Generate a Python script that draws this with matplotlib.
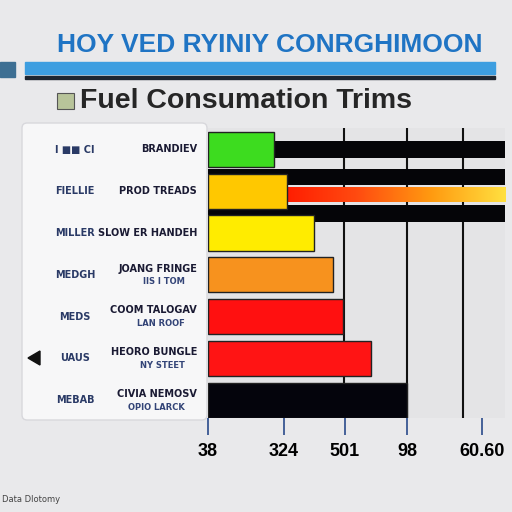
import matplotlib
matplotlib.use("Agg")
import matplotlib.pyplot as plt
import numpy as np
from matplotlib.patches import FancyBboxPatch, Rectangle, Polygon
from matplotlib.colors import LinearSegmentedColormap

# ---- data ----
codes = ["I ■■ CI", "FIELLIE", "MILLER", "MEDGH", "MEDS", "UAUS", "MEBAB"]
names = ["BRANDIEV", "PROD TREADS", "SLOW ER HANDEH", "JOANG FRINGE",
         "COOM TALOGAV", "HEORO BUNGLE", "CIVIA NEMOSV"]
subnames = ["", "", "", "IIS I TOM", "LAN ROOF", "NY STEET", "OPIO LARCK"]
values = [20, 24, 32, 38, 41, 49.4, 60.3]
bar_colors = ["#3ddc1f", "#ffc800", "#ffec00", "#f7921e", "#ff1010", "#ff1414", "#04040c"]
band_pos = [0.0, 0.66, 1.53]
band_vals = [90, 90, 90]
grad_pos = 1.09
grad_val = 90
tick_vals = [0, 23, 41.5, 60.3, 83]
tick_labels = ["38", "324", "501", "98", "60.60"]
grid_vals = [41.2, 60.3, 77.3]

title = "HOY VED RYINIY CONRGHIMOON"
subtitle = "Fuel Consumation Trims"
footer = "Data Dlotomy"

fig = plt.figure(figsize=(5.12, 5.12), dpi=100)
fig.patch.set_facecolor("#e9e9eb")

# header decorations
fig.patches.append(Rectangle((0, 1 - 77/512), 15/512, 15/512, transform=fig.transFigure,
                             color="#3d6f93", zorder=1))
fig.patches.append(Rectangle((25/512, 1 - 74/512), 470/512, 12/512, transform=fig.transFigure,
                             color="#3d9ee0", zorder=1))
fig.patches.append(Rectangle((25/512, 1 - 79/512), 470/512, 3/512, transform=fig.transFigure,
                             color="#1e2630", zorder=1))
fig.text(57/512, 1 - 45/512, title, color="#1f74c4", fontsize=19, fontweight="bold",
         family="Liberation Sans", va="center", ha="left")
# small icon before subtitle
fig.patches.append(Rectangle((57/512, 1 - 109/512), 17/512, 16/512, transform=fig.transFigure,
                             facecolor="#b8c49a", edgecolor="#555555", lw=0.8, zorder=1))
fig.text(80/512, 1 - 101/512, subtitle, color="#262626", fontsize=20.5, fontweight="bold",
         family="Liberation Sans", va="center", ha="left")
fig.text(2/512, 1 - 500/512, footer, color="#444444", fontsize=6, va="center", ha="left")

# left label panel
fig.patches.append(FancyBboxPatch((22/512, 1 - 420/512), 185/512, 297/512,
                                  boxstyle="round,pad=0,rounding_size=0.01",
                                  transform=fig.transFigure, facecolor="#f7f7f8",
                                  edgecolor="#d8d8dc", lw=1, zorder=1))
fig.patches.append(Polygon([[28/512, 1 - 358/512], [40/512, 1 - 351/512], [40/512, 1 - 365/512]],
                           closed=True, transform=fig.transFigure, color="#111111", zorder=2))

ax = fig.add_axes([208/512, 1 - 418/512, 297/512, 290/512])
ax.set_facecolor("#e4e4e6")

y = np.arange(len(values))
for gv in grid_vals:
    ax.axvline(gv, color="#111111", lw=1.5, zorder=1)
# black bands
ax.barh(band_pos, band_vals, height=0.4, color="#050508", zorder=2)
# gradient band
grad = np.linspace(0, 1, 256).reshape(1, -1)
cmap = LinearSegmentedColormap.from_list("g", ["#ff1a00", "#ff4a10", "#ff9a10", "#ffe040"])
ax.imshow(grad, cmap=cmap, aspect="auto",
          extent=[22, grad_val, grad_pos + 0.17, grad_pos - 0.17], zorder=2)
ax.set_xlim(0, 90)
ax.set_ylim(6.43, -0.515)
# main bars
ax.barh(y, values, height=0.84, color=bar_colors, edgecolor="#222222", lw=1, zorder=3)

ax.set_yticks([])
ax.set_xticks(tick_vals)
ax.set_xticklabels(tick_labels, fontsize=13, fontweight="bold", family="Liberation Sans")
ax.tick_params(axis="x", length=12, width=1.2, color="#2a4a8a", pad=6)
for s in ax.spines.values():
    s.set_visible(False)

# row labels
for i in range(len(values)):
    yc = 1 - (149.5 + i * 41.75) / 512
    dy = 0.012 if subnames[i] else 0
    fig.text(75/512, yc, codes[i], fontsize=7, fontweight="bold", color="#2a3a66",
             ha="center", va="center")
    fig.text(197/512, yc + dy, names[i], fontsize=7, fontweight="bold", color="#1a1a33",
             ha="right", va="center")
    if subnames[i]:
        fig.text(185/512, yc - 0.014, subnames[i], fontsize=6, fontweight="bold",
                 color="#334477", ha="right", va="center")

fig.savefig("out.png", dpi=100, facecolor=fig.get_facecolor())
